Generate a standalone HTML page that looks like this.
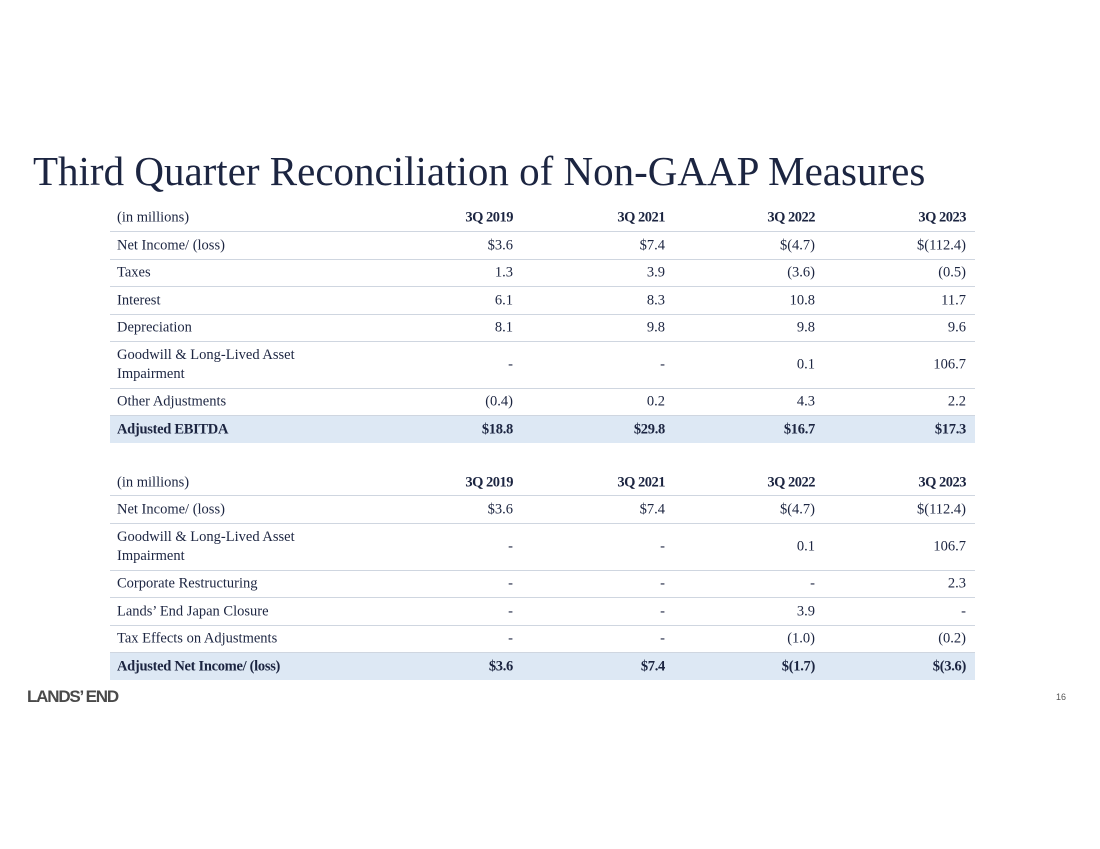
<!DOCTYPE html>
<html><head><meta charset="utf-8"><style>
body{margin:0;width:1100px;height:849px;background:#fff;position:relative;overflow:hidden;font-family:"Liberation Serif",serif;color:#1c2541}
.t{position:absolute;left:33px;top:147px;font-size:41px;color:#1c2541;white-space:nowrap}
.row{position:absolute;left:110px;width:865px;border-bottom:1px solid #cfd6e0;font-size:14.5px}
.row div{position:absolute;top:50%;transform:translateY(-50%)}
.lab{left:7px;line-height:19px}
.c1{right:462px}.c2{right:310px}.c3{right:160px}.c4{right:9px}
.hd{font-weight:bold;letter-spacing:-0.5px}
.tot{background:#dde8f4;font-weight:bold;border-bottom:none;letter-spacing:-0.3px}
.logo{position:absolute;left:27px;top:687px;font-family:"Liberation Sans",sans-serif;font-weight:bold;font-size:17px;color:#4a4a4a;letter-spacing:-1.2px}
.pg{position:absolute;left:1056px;top:692px;font-family:"Liberation Sans",sans-serif;font-size:9px;color:#555}
</style></head><body>
<div class="t">Third Quarter Reconciliation of Non-GAAP Measures</div>
<div id="tables"></div>
<div class="logo">LANDS’ END</div>
<div class="pg">16</div>
<script>
const headers=["(in millions)","3Q 2019","3Q 2021","3Q 2022","3Q 2023"];
const table1=[
["Net Income/ (loss)","$3.6","$7.4","$(4.7)","$(112.4)"],
["Taxes","1.3","3.9","(3.6)","(0.5)"],
["Interest","6.1","8.3","10.8","11.7"],
["Depreciation","8.1","9.8","9.8","9.6"],
["Goodwill & Long-Lived Asset<br>Impairment","-","-","0.1","106.7"],
["Other Adjustments","(0.4)","0.2","4.3","2.2"],
["Adjusted EBITDA","$18.8","$29.8","$16.7","$17.3"]];
const table2=[
["Net Income/ (loss)","$3.6","$7.4","$(4.7)","$(112.4)"],
["Goodwill & Long-Lived Asset<br>Impairment","-","-","0.1","106.7"],
["Corporate Restructuring","-","-","-","2.3"],
["Lands’ End Japan Closure","-","-","3.9","-"],
["Tax Effects on Adjustments","-","-","(1.0)","(0.2)"],
["Adjusted Net Income/ (loss)","$3.6","$7.4","$(1.7)","$(3.6)"]];
const b1=[205,232,260,287,315,342,389,416,443];
const b2=[470,496,524,571,598,626,653,680];
const host=document.getElementById('tables');
function build(rows,b,tn){
  const all=[headers].concat(rows);
  all.forEach((r,i)=>{
    const d=document.createElement('div');
    d.className='row'+(i==0?' hd':'')+(i==all.length-1?' tot':'');
    d.style.top=b[i]+'px';d.style.height=(b[i+1]-b[i]-1)+'px';
    
    
    const cls=['lab','c1','c2','c3','c4'];
    r.forEach((v,j)=>{
      const c=document.createElement('div');c.className=cls[j];c.innerHTML=v;
      if(i==0&&j==0)c.style.fontWeight='normal',c.style.letterSpacing='0';
      
      
      d.appendChild(c);
    });
    if(i==all.length-1)d.style.height=(b[i+1]-b[i])+'px';
    host.appendChild(d);
  });
}
build(table1,b1,'ebitda');
build(table2,b2,'net-income');
</script>
</body></html>
